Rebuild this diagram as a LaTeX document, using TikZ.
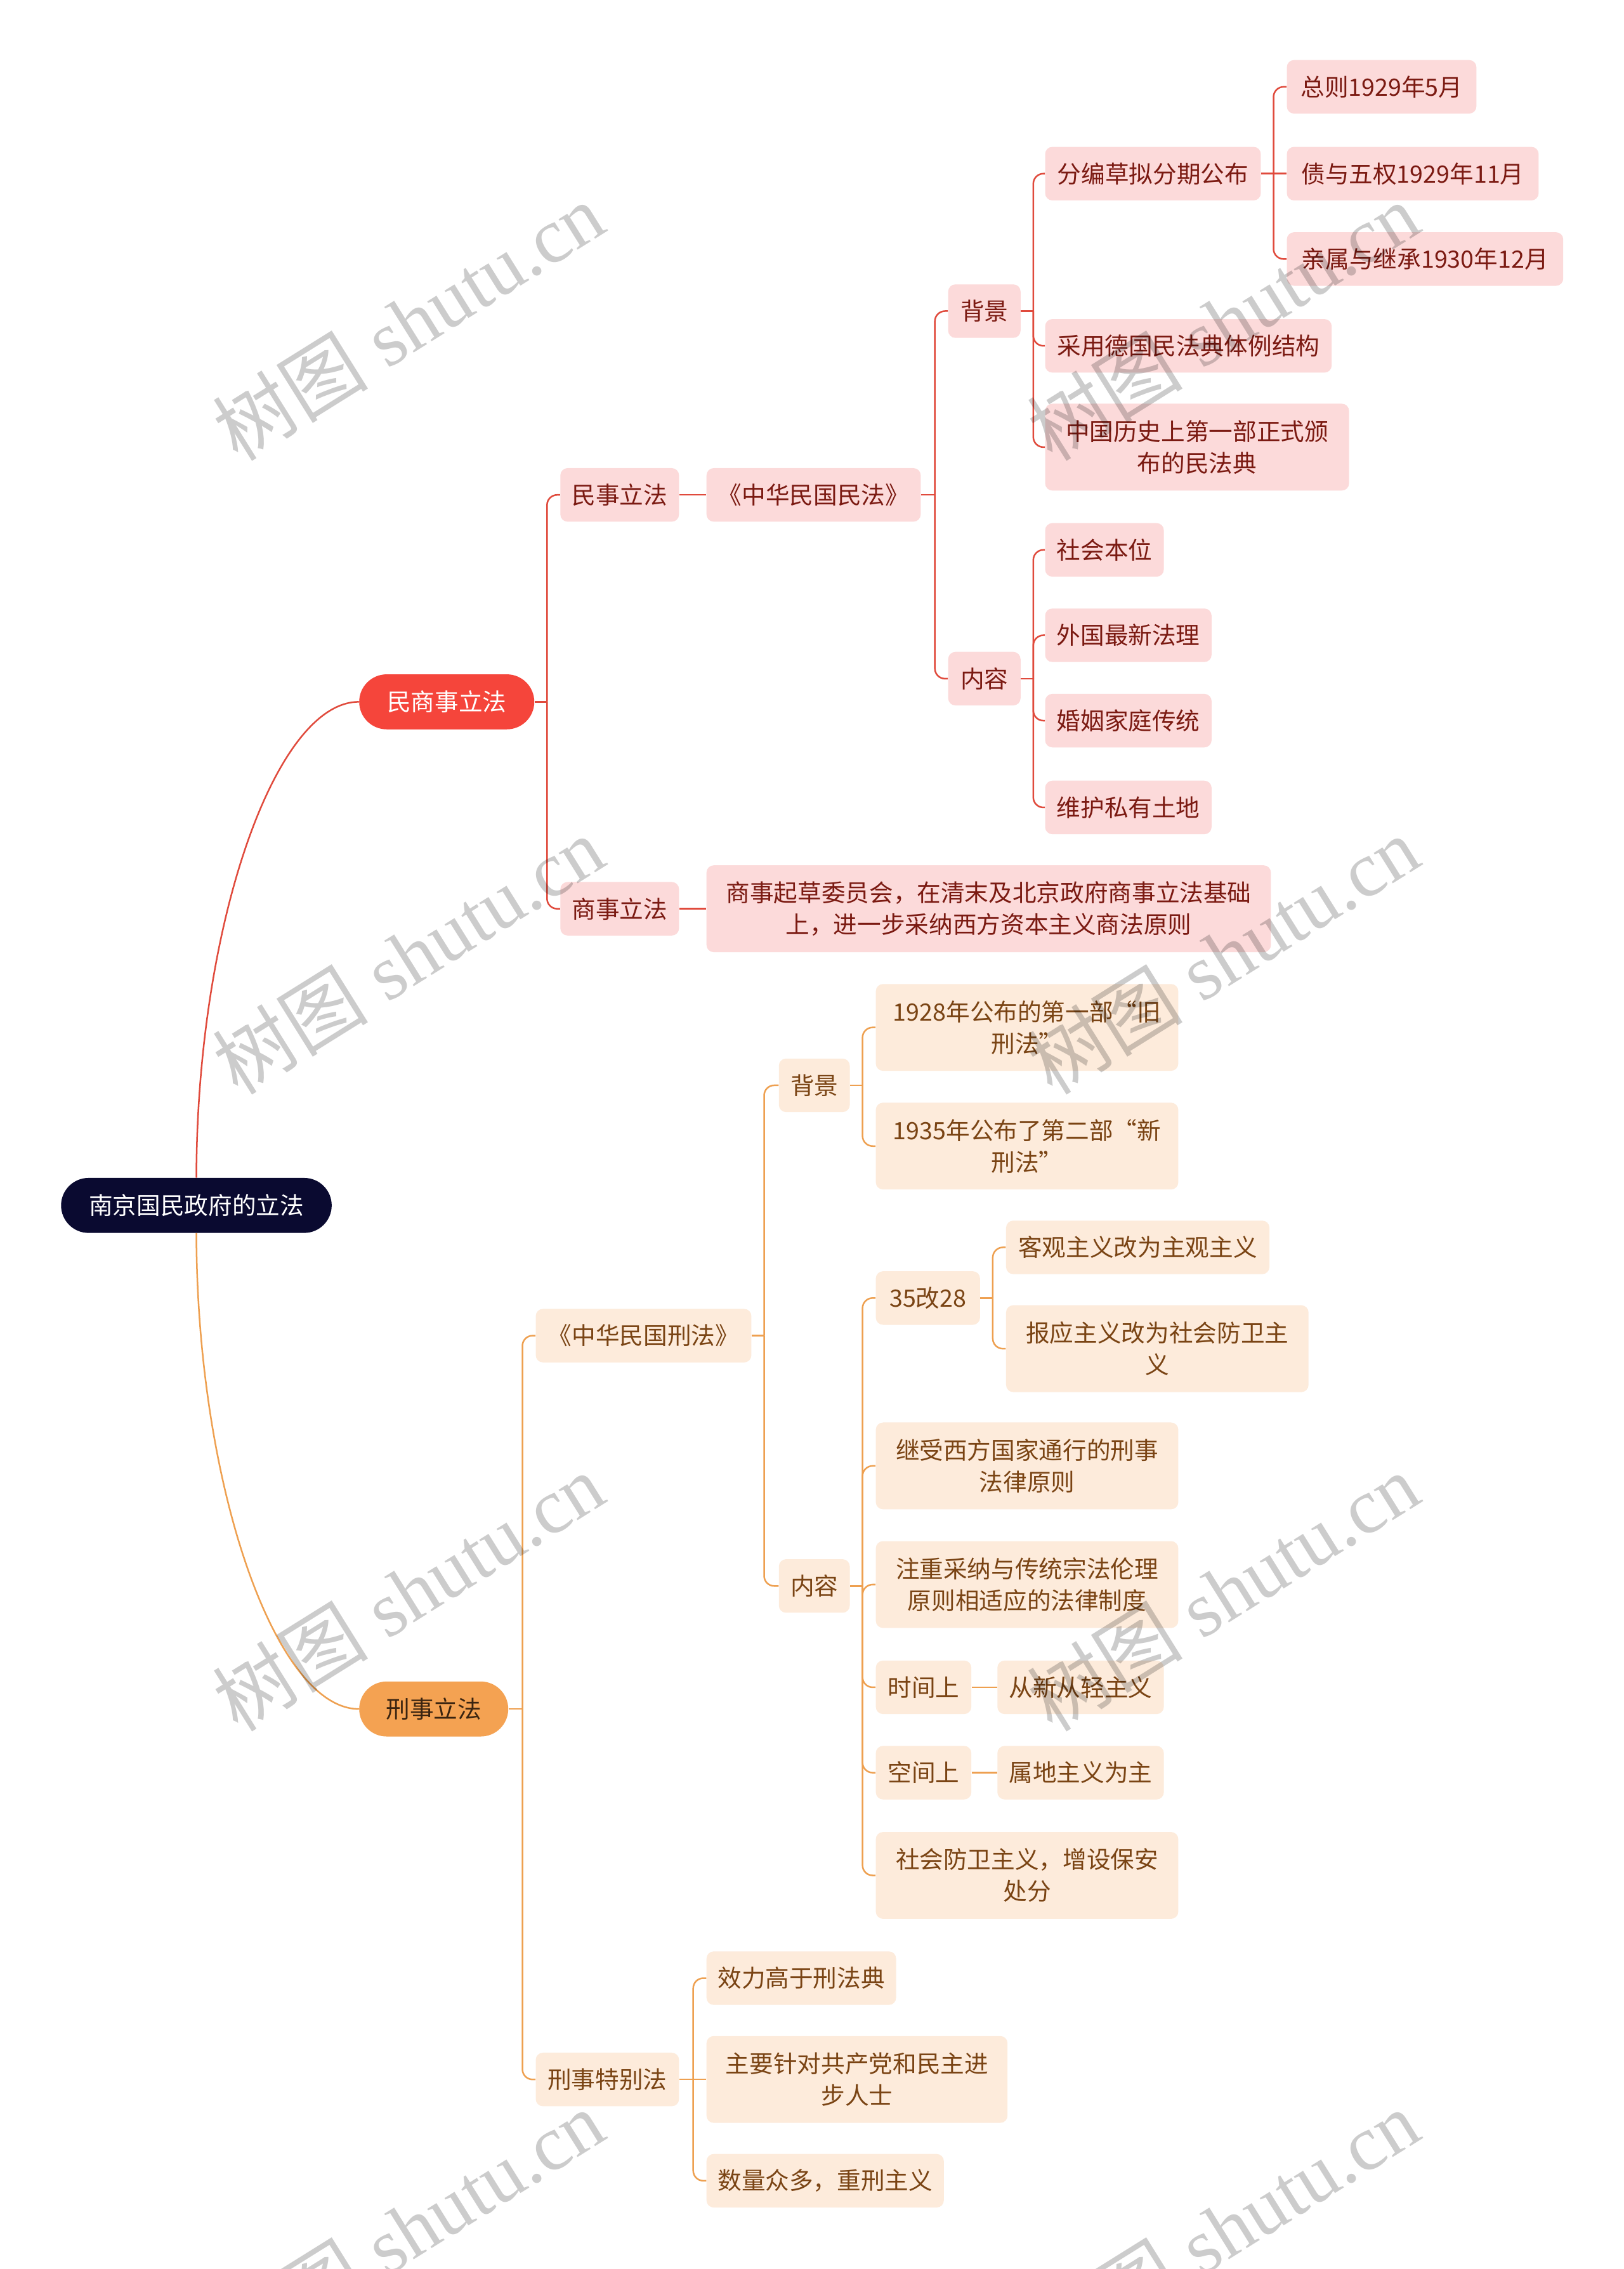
\documentclass[tikz,border=0pt]{standalone}
\usepackage{fontspec}
\newfontfamily\cjk{Noto Sans CJK SC}
\newfontfamily\wmserif{Liberation Serif}
\definecolor{rootfill}{HTML}{0A0A30}
\definecolor{redfill}{HTML}{F5453B}
\definecolor{orfill}{HTML}{F4A252}
\definecolor{pinkfill}{HTML}{FCDADA}
\definecolor{peachfill}{HTML}{FDEBDB}
\definecolor{redtext}{HTML}{7B1A12}
\definecolor{browntext}{HTML}{7A4414}
\definecolor{redline}{HTML}{E04A3C}
\definecolor{orline}{HTML}{EEA050}
\definecolor{ortext}{HTML}{3A2410}
\tikzset{
  base/.style={font=\cjk\fontsize{16.5}{22}\selectfont, align=center, inner xsep=6pt, inner ysep=3pt, anchor=west, rounded corners=5pt},
  rbox/.style={base, fill=pinkfill, text=redtext},
  obox/.style={base, fill=peachfill, text=browntext},
  rootbox/.style={base, fill=rootfill, text=white, rounded corners=19pt},
  mainr/.style={base, fill=redfill, text=white, rounded corners=19pt},
  maino/.style={base, fill=orfill, text=ortext, rounded corners=19pt},
  rl/.style={draw=redline, line width=1.1pt, rounded corners=7pt},
  ol/.style={draw=orline, line width=1.1pt, rounded corners=7pt},
  wm/.style={text=black, text opacity=0.2, font=\wmserif\fontsize{54}{54}\selectfont, rotate=32, inner sep=0pt}
}
\newcommand\mk[7]{\node[#1, minimum width=#4pt-#3pt, minimum height=#6pt] (#2) at (#3,#5) {#7};}
\newcommand\fork[4]{\draw[#1] (#2.east) -- (#3,0 |- #2.east);
  \foreach \c in {#4} {\draw[#1] (#3,0 |- #2.east) |- (\c.west);}}
\begin{document}
\begin{tikzpicture}[x=1pt,y=-1pt]
\useasboundingbox (0,0) rectangle (1122,1568);
\fill[white] (0,0) rectangle (1122,1568);
% root and main
\mk{rootbox}{root}{42}{229}{833}{38}{南京国民政府的立法}
\mk{mainr}{msl}{248}{369}{485}{38}{民商事立法}
\mk{maino}{xs}{248}{351}{1181}{38}{刑事立法}
% red branch
\mk{rbox}{ms}{387}{469}{342}{37}{民事立法}
\mk{rbox}{ss}{387}{469}{628}{37}{商事立法}
\mk{rbox}{mf}{488}{636}{342}{37}{《中华民国民法》}
\mk{rbox}{bja}{655}{705}{215}{37}{背景}
\mk{rbox}{nra}{655}{705}{469}{37}{内容}
\mk{rbox}{fb}{722}{871}{120}{37}{分编草拟分期公布}
\mk{rbox}{cy}{722}{920}{239}{37}{采用德国民法典体例结构}
\mk{rbox}{zg}{722}{932}{309}{60}{中国历史上第一部正式颁\\布的民法典}
\mk{rbox}{zz}{889}{1020}{60}{37}{总则1929年5月}
\mk{rbox}{zw}{889}{1063}{120}{37}{债与五权1929年11月}
\mk{rbox}{qs}{889}{1080}{179}{37}{亲属与继承1930年12月}
\mk{rbox}{sh}{722}{804}{380}{37}{社会本位}
\mk{rbox}{wg}{722}{837}{439}{37}{外国最新法理}
\mk{rbox}{hy}{722}{837}{498}{37}{婚姻家庭传统}
\mk{rbox}{wh}{722}{837}{558}{37}{维护私有土地}
\mk{rbox}{sq}{488}{878}{628}{60}{商事起草委员会，在清末及北京政府商事立法基础\\上，进一步采纳西方资本主义商法原则}
% orange branch
\mk{obox}{xf}{370}{519}{923}{37}{《中华民国刑法》}
\mk{obox}{tb}{370}{469}{1437}{37}{刑事特别法}
\mk{obox}{bjb}{538}{587}{750}{37}{背景}
\mk{obox}{nrb}{538}{587}{1096}{37}{内容}
\mk{obox}{xa}{605}{814}{710}{60}{1928年公布的第一部“旧\\刑法”}
\mk{obox}{xb}{605}{814}{792}{60}{1935年公布了第二部“新\\刑法”}
\mk{obox}{g35}{605}{677}{897}{37}{35改28}
\mk{obox}{kg}{695}{877}{862}{37}{客观主义改为主观主义}
\mk{obox}{by}{695}{904}{932}{60}{报应主义改为社会防卫主\\义}
\mk{obox}{js}{605}{814}{1013}{60}{继受西方国家通行的刑事\\法律原则}
\mk{obox}{zc}{605}{814}{1095}{60}{注重采纳与传统宗法伦理\\原则相适应的法律制度}
\mk{obox}{sj}{605}{671}{1166}{37}{时间上}
\mk{obox}{cx}{689}{804}{1166}{37}{从新从轻主义}
\mk{obox}{kj}{605}{671}{1225}{37}{空间上}
\mk{obox}{sd}{689}{804}{1225}{37}{属地主义为主}
\mk{obox}{sf}{605}{814}{1296}{60}{社会防卫主义，增设保安\\处分}
\mk{obox}{xl}{488}{619}{1367}{37}{效力高于刑法典}
\mk{obox}{zy}{488}{696}{1437}{60}{主要针对共产党和民主进\\步人士}
\mk{obox}{sl}{488}{652}{1507}{37}{数量众多，重刑主义}
% root curves
\draw[draw=redline, line width=1.1pt] (root.north) .. controls (136,640) and (190,485) .. (msl.west);
\draw[draw=orline, line width=1.1pt] (root.south) .. controls (136,1025) and (190,1181) .. (xs.west);
% red connectors
\fork{rl}{msl}{378}{ms,ss}
\draw[rl] (ms.east) -- (mf.west);
\draw[rl] (ss.east) -- (sq.west);
\fork{rl}{mf}{646}{bja,nra}
\fork{rl}{bja}{714}{fb,cy,zg}
\fork{rl}{fb}{880}{zz,qs}
\draw[rl] (fb.east) -- (zw.west);
\fork{rl}{nra}{714}{sh,wg,hy,wh}
% orange connectors
\fork{ol}{xs}{361}{xf,tb}
\fork{ol}{xf}{528}{bjb,nrb}
\fork{ol}{bjb}{596}{xa,xb}
\fork{ol}{nrb}{596}{g35,js,zc,sj,kj,sf}
\fork{ol}{g35}{686}{kg,by}
\draw[ol] (sj.east) -- (cx.west);
\draw[ol] (kj.east) -- (sd.west);
\fork{ol}{tb}{479}{xl,sl}
\draw[ol] (tb.east) -- (zy.west);
% watermarks
\foreach \wx in {282,845} {
  \foreach \wy in {222,660,1100,1540} {
    \node[wm] at (\wx,\wy) {{\cjk 树图} shutu.cn};
  }
}
\end{tikzpicture}
\end{document}
